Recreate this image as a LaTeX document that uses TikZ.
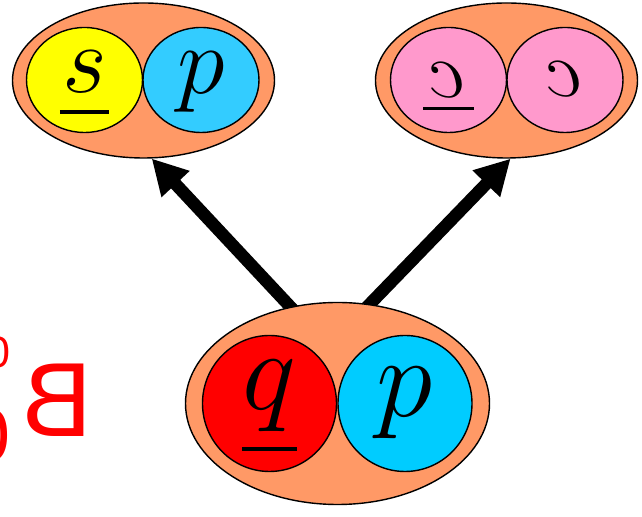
\RequirePackage{fix-cm}
\documentclass[tikz,border=0pt]{standalone}
\usepackage{fontspec}
\usepackage{graphicx}
\usetikzlibrary{shapes.geometric, arrows.meta, backgrounds}
\newfontfamily\labelsans{Liberation Sans}
\definecolor{bagorange}{HTML}{FF9966}
\definecolor{quarkyellow}{HTML}{FFFF00}
\definecolor{quarkblue}{HTML}{33CCFF}
\definecolor{quarkcyan}{HTML}{00CCFF}
\definecolor{quarkpink}{HTML}{FF99CC}
\definecolor{quarkred}{HTML}{FF0000}
% underlined quark: bar width, bar depth, letter
\newcommand{\barred}[3]{\makebox[#1]{$#3$}\llap{\rule[-#2]{#1}{0.036em}}}
\tikzset{every node/.append style={inner sep=0pt}}

\begin{document}
\begin{tikzpicture}[
    bag/.style={ellipse, draw, line width=0.8pt, fill=bagorange},
    quark/.style={ellipse, draw, line width=0.8pt},
    drop/.style={text height=#1, text depth=0pt},
    letter/.style={font=\fontsize{#1}{#1}\selectfont},
    push/.style={line width=0.25cm, -{Triangle[length=0.7cm, width=0.72cm]}}]
    \useasboundingbox (0,0) rectangle (12.84,10.34);
    % the three mesons
    \node[bag, minimum width=5.24cm, minimum height=3.1cm] (left) at (2.87,8.73) {};
    \node[bag, minimum width=5.24cm, minimum height=3.1cm] (right) at (10.13,8.73) {};
    \node[bag, minimum width=6.08cm, minimum height=4.04cm] (bottom) at (6.75,2.27) {};
    % quarks
    \node[quark, fill=quarkyellow, minimum width=2.32cm, minimum height=2.1cm,
        letter=55, drop=0.52cm] (s1) at (1.69,8.74) {\barred{0.51em}{0.215em}{s}};
    \node[quark, fill=quarkblue, minimum width=2.32cm, minimum height=2.1cm,
        letter=55, drop=0.56cm] (p1) at (4.02,8.74) {$p$};
    \node[quark, fill=quarkpink, minimum width=2.32cm, minimum height=2.1cm,
        letter=46, drop=0.7cm] (c1) at (8.97,8.74) {\reflectbox{\barred{0.62em}{0.15em}{c}}};
    \node[quark, fill=quarkpink, minimum width=2.32cm, minimum height=2.1cm,
        letter=46, drop=0.68cm] (c2) at (11.30,8.74) {\reflectbox{$c$}};
    \node[quark, fill=quarkred, minimum width=2.68cm, minimum height=2.72cm,
        letter=65, drop=0.24cm] (q1) at (5.39,2.27) {\barred{0.48em}{0.365em}{q}};
    \node[quark, fill=quarkcyan, minimum width=2.68cm, minimum height=2.72cm,
        letter=65, drop=0.52cm] (p2) at (8.10,2.27) {$p$};
    % label
    \node[anchor=base east, text=red, font=\labelsans\fontsize{60}{60}\selectfont]
        (meson) at (1.86,1.6) {\reflectbox{B}};
    \node[anchor=base east, text=red, font=\labelsans\fontsize{25}{25}\selectfont]
        (sup) at (0.22,2.98) {\reflectbox{0}};
    \node[anchor=base east, text=red, font=\labelsans\fontsize{43}{43}\selectfont]
        (sub) at (0.22,1.1) {\reflectbox{0}};
    % decays
    \begin{scope}[on background layer]
        \draw[push, shorten <=-4pt] (bottom.116) -- (left.-84);
        \draw[push, shorten <=-4pt] (bottom.72) -- (right.-87.5);
    \end{scope}
\end{tikzpicture}
\end{document}
